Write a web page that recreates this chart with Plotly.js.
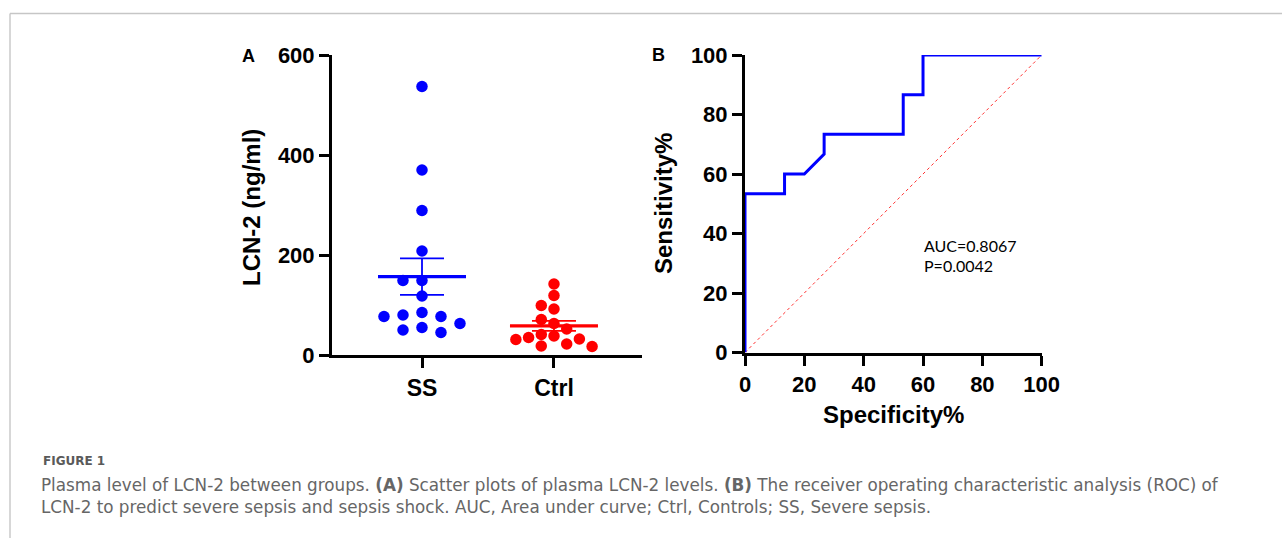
<!DOCTYPE html>
<html>
<head>
<meta charset="utf-8">
<script src="https://cdn.plot.ly/plotly-3.0.1.min.js"></script>
<style>
  html, body { margin: 0; padding: 0; background: #ffffff; }
  #chart { width: 1282px; height: 538px; }
</style>
</head>
<body>
<div id="chart"></div>
<script>
// ---------------- DATA ----------------
const groups = ["SS", "Ctrl"];
const ssValues = [537, 370, 289, 208, 149, 149, 118, 85, 80, 77, 77, 63, 55, 50, 45];
const ctrlValues = [142, 119, 99, 92, 71, 63, 52, 41, 38, 35, 32, 31, 22, 18, 17];
const yTicksA = [0, 200, 400, 600];

const rocSpecificity = [0, 0, 13.33, 13.33, 20, 26.67, 26.67, 53.33, 53.33, 60, 60, 100];
const rocSensitivity = [0, 53.33, 53.33, 60, 60, 66.67, 73.33, 73.33, 86.67, 86.67, 100, 100];
const chanceLine = [0, 100];
const ticksB = [0, 20, 40, 60, 80, 100];

const aucLabel = "AUC=0.8067";
const pLabel = "P=0.0042";
const captionTitle = "FIGURE 1";
const captionLine1 = "Plasma level of LCN-2 between groups. <b>(A)</b> Scatter plots of plasma LCN-2 levels. <b>(B)</b> The receiver operating characteristic analysis (ROC) of";
const captionLine2 = "LCN-2 to predict severe sepsis and sepsis shock. AUC, Area under curve; Ctrl, Controls; SS, Severe sepsis.";

// ---------------- LAYOUT GEOMETRY ----------------
const W = 1282, H = 538;
const fx = p => p / W;
const fy = p => 1 - p / H;

const A = { left: 332, right: 642, top: 55, bottom: 355, xr: [0.318, 2.667], yr: [0, 600] };
const B = { left: 745, right: 1041.7, top: 55, bottom: 352.5 };

const xPxPerUnit = (A.right - A.left) / (A.xr[1] - A.xr[0]);
const yPxPerUnit = (A.bottom - A.top) / (A.yr[1] - A.yr[0]);

const MARKER = 11.5;

// greedy beeswarm in pixel space
function swarm(values, stepPx, diam) {
  const idx = values.map((v, i) => i).sort((a, b) => values[b] - values[a]);
  const placed = [];
  const off = new Array(values.length).fill(0);
  idx.forEach(i => {
    const y = values[i] * yPxPerUnit;
    for (let k = 0; k < 40; k++) {
      const slot = k === 0 ? 0 : (k % 2 === 1 ? -Math.ceil(k / 2) : Math.ceil(k / 2));
      const x = slot * stepPx;
      const hit = placed.some(p => Math.hypot(p.x - x, p.y - y) < diam);
      if (!hit) { placed.push({ x, y }); off[i] = x; break; }
    }
  });
  return off;
}

function stats(vals) {
  const n = vals.length;
  const m = vals.reduce((a, b) => a + b, 0) / n;
  const sd = Math.sqrt(vals.reduce((a, b) => a + (b - m) * (b - m), 0) / (n - 1));
  return { mean: m, sem: sd / Math.sqrt(n) };
}

const FONT = "Liberation Sans, Arial, Helvetica, sans-serif";
const CAPFONT = "DejaVu Sans, Open Sans, sans-serif";
const traces = [];

const groupDefs = [
  { name: groups[0], values: ssValues, color: "#0000ff", step: 19, center: 1 },
  { name: groups[1], values: ctrlValues, color: "#ff0000", step: 12.7, center: 2 }
];

groupDefs.forEach(g => {
  const offs = swarm(g.values, g.step, MARKER);
  traces.push({
    type: "scatter", mode: "markers", xaxis: "x", yaxis: "y",
    x: offs.map(o => g.center + o / xPxPerUnit),
    y: g.values,
    marker: { color: g.color, size: MARKER, line: { width: 0 } },
    cliponaxis: false, hoverinfo: "skip", showlegend: false
  });
});

groupDefs.forEach(g => {
  const s = stats(g.values);
  const c = g.center;
  const hw = 44 / xPxPerUnit, cw = 22 / xPxPerUnit;
  traces.push({
    type: "scatter", mode: "lines", xaxis: "x", yaxis: "y",
    x: [c, c, null, c - cw, c + cw, null, c - cw, c + cw],
    y: [s.mean - s.sem, s.mean + s.sem, null, s.mean + s.sem, s.mean + s.sem, null, s.mean - s.sem, s.mean - s.sem],
    line: { color: g.color, width: 1.8 },
    cliponaxis: false, hoverinfo: "skip", showlegend: false
  });
  traces.push({
    type: "scatter", mode: "lines", xaxis: "x", yaxis: "y",
    x: [c - hw, c + hw], y: [s.mean, s.mean],
    line: { color: g.color, width: 3.2 },
    cliponaxis: false, hoverinfo: "skip", showlegend: false
  });
});

traces.push({
  type: "scatter", mode: "lines", xaxis: "x2", yaxis: "y2",
  x: chanceLine, y: chanceLine,
  line: { color: "#ff3030", width: 1, dash: "dot" },
  cliponaxis: false, hoverinfo: "skip", showlegend: false
});
traces.push({
  type: "scatter", mode: "lines", xaxis: "x2", yaxis: "y2",
  x: rocSpecificity, y: rocSensitivity,
  line: { color: "#0000ff", width: 3, shape: "linear" },
  cliponaxis: false, hoverinfo: "skip", showlegend: false
});

const axisBase = {
  showline: true, linewidth: 3, linecolor: "#000000",
  ticks: "outside", ticklen: 10, tickwidth: 3, tickcolor: "#000000",
  showgrid: false, zeroline: false, fixedrange: true, automargin: false
};
const tickFont = size => ({ family: FONT, size: size, weight: 700, color: "#000000" });

const layout = {
  width: W, height: H,
  margin: { l: 0, r: 0, t: 0, b: 0, pad: 0 },
  paper_bgcolor: "#ffffff", plot_bgcolor: "rgba(0,0,0,0)",
  showlegend: false,
  font: { family: FONT, color: "#000000" },
  xaxis: Object.assign({}, axisBase, {
    domain: [fx(A.left), fx(A.right)], range: A.xr, anchor: "y",
    tickmode: "array", tickvals: [1, 2], ticktext: groups,
    tickfont: tickFont(23)
  }),
  yaxis: Object.assign({}, axisBase, {
    domain: [fy(A.bottom), fy(A.top)], range: A.yr, anchor: "x",
    tickmode: "array", tickvals: yTicksA,
    tickfont: tickFont(22)
  }),
  xaxis2: Object.assign({}, axisBase, {
    domain: [fx(B.left), fx(B.right)], range: [0, 100], anchor: "y2",
    tickmode: "array", tickvals: ticksB, layer: "below traces",
    tickfont: tickFont(22)
  }),
  yaxis2: Object.assign({}, axisBase, {
    domain: [fy(B.bottom), fy(B.top)], range: [0, 100], anchor: "x2",
    tickmode: "array", tickvals: ticksB, layer: "below traces",
    tickfont: tickFont(22)
  }),
  shapes: [
    { type: "line", xref: "paper", yref: "paper", x0: fx(10), x1: 1, y0: fy(13.5), y1: fy(13.5), line: { color: "#c6c6c6", width: 1.6 } },
    { type: "line", xref: "paper", yref: "paper", x0: fx(10), x1: fx(10), y0: fy(13.5), y1: 0, line: { color: "#c6c6c6", width: 1.4 } }
  ],
  annotations: [
    { text: "A", x: fx(248), y: fy(55.5), xanchor: "center", yanchor: "middle",
      font: { family: FONT, size: 18, weight: 700, color: "#000" } },
    { text: "B", x: fx(658.7), y: fy(55), xanchor: "center", yanchor: "middle",
      font: { family: FONT, size: 18, weight: 700, color: "#000" } },
    { text: "LCN-2 (ng/ml)", textangle: -90, x: fx(251.5), y: fy(207.5), xanchor: "center", yanchor: "middle",
      font: { family: FONT, size: 24, weight: 700, color: "#000" } },
    { text: "Sensitivity%", textangle: -90, x: fx(663.5), y: fy(203.5), xanchor: "center", yanchor: "middle",
      font: { family: FONT, size: 24, weight: 700, color: "#000" } },
    { text: "Specificity%", x: fx(893), y: fy(414), xanchor: "center", yanchor: "middle",
      font: { family: FONT, size: 24, weight: 700, color: "#000" } },
    { text: aucLabel, x: fx(922), y: fy(245.5), xanchor: "left", yanchor: "middle",
      font: { family: "Lato, Open Sans, sans-serif", size: 16, color: "#000" } },
    { text: pLabel, x: fx(922), y: fy(265.5), xanchor: "left", yanchor: "middle",
      font: { family: "Lato, Open Sans, sans-serif", size: 16, color: "#000" } },
    { text: "<b>" + captionTitle + "</b>", x: fx(41), y: fy(461), xanchor: "left", yanchor: "middle",
      font: { family: CAPFONT, size: 12, color: "#5a5a5a" } },
    { text: captionLine1, x: fx(39), y: fy(484.5), xanchor: "left", yanchor: "middle",
      font: { family: CAPFONT, size: 16.8, color: "#666666" } },
    { text: captionLine2, x: fx(39), y: fy(506.5), xanchor: "left", yanchor: "middle",
      font: { family: CAPFONT, size: 16.8, color: "#666666" } }
  ].map(a => Object.assign({ xref: "paper", yref: "paper", showarrow: false, align: "left" }, a))
};

Plotly.newPlot("chart", traces, layout, { staticPlot: true, displayModeBar: false });
</script>
</body>
</html>
